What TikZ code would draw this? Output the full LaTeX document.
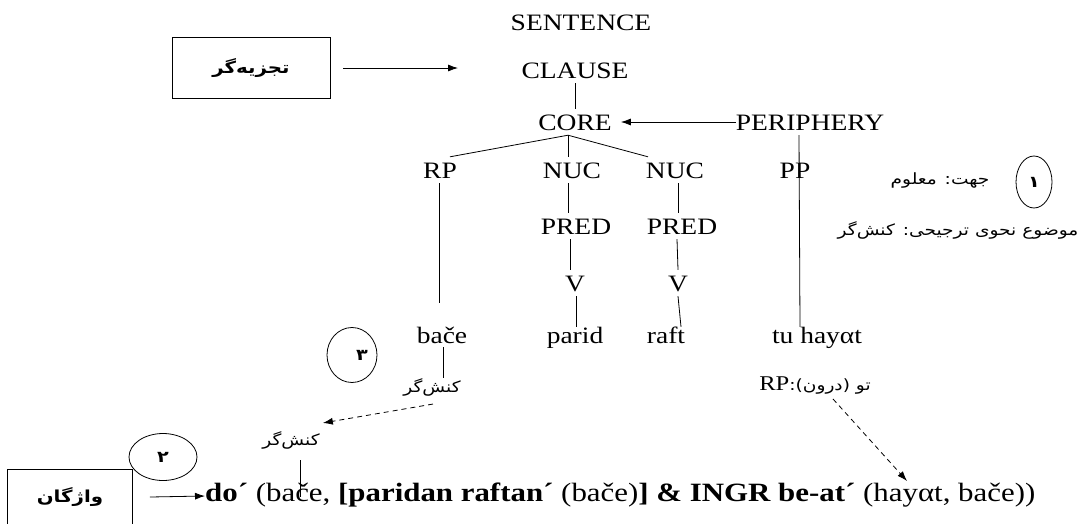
\documentclass[tikz,border=0pt]{standalone}
\usepackage{fontspec}
\setmainfont{Liberation Serif}[FakeStretch=1.17]
\newfontfamily\arabicfont[Script=Arabic,FakeStretch=1.2]{DejaVu Sans}
\usetikzlibrary{arrows.meta,shapes.geometric,calc}
\TeXXeTstate=1
\begin{document}
\begin{tikzpicture}[x=1pt,y=-1pt,
  tree/.style={inner xsep=0pt, inner ysep=5pt, text height=16pt, text depth=0pt, font=\fontsize{23.5}{28}\selectfont},
  word/.style={tree, inner ysep=0pt},
  fa/.style={inner sep=0pt, font=\arabicfont\fontsize{15.5}{18}\selectfont},
  fabox/.style={draw, line width=0.9pt, inner sep=0pt, font=\arabicfont\bfseries\fontsize{16.5}{20}\selectfont},
  oval/.style={draw, ellipse, inner sep=0pt, line width=0.8pt, font=\arabicfont\bfseries\fontsize{16}{18}\selectfont},
  edge/.style={line width=0.8pt},
  arr/.style={edge, -{Latex[length=10pt,width=7pt]}},
  darr/.style={arr, dash pattern=on 5pt off 4pt}]
\useasboundingbox (0,0) rectangle (1089,523);

% tree
\node[tree] (sentence) at (581,22) {SENTENCE};
\node[tree] (clause) at (575,70) {CLAUSE};
\node[tree] (core) at (575,122) {CORE};
\node[tree] (periphery) at (810,122) {PERIPHERY};
\node[tree] (rp) at (440,170) {RP};
\node[tree] (nuc1) at (572,170) {NUC};
\node[tree] (nuc2) at (675,170) {NUC};
\node[tree] (pp) at (795,170) {PP};
\node[tree] (pred1) at (576,226) {PRED};
\node[tree] (pred2) at (682,226) {PRED};
\node[tree] (v1) at (575,283) {V};
\node[tree] (v2) at (678,283) {V};
\node[word] (bace) at (442,335) {bače};
\node[word] (parid) at (575,335) {parid};
\node[word] (raft) at (666,335) {raft};
\node[word] (tuhayat) at (817,335) {tu hayαt};

\draw[edge] (clause.south) -- (core.north);
\coordinate (apex) at ($(core.south)+(-7,0)$);
\draw[edge] (apex) -- ($(rp.north)+(10,0)$);
\draw[edge] (apex) -- ($(nuc1.north)+(-4,0)$);
\draw[edge] (apex) -- ($(nuc2.north)+(-27,0)$);
\draw[edge] ($(nuc1.south)+(-4,0)$) -- ($(pred1.north)+(-8,0)$);
\draw[edge] ($(nuc2.south)+(3,0)$) -- ($(pred2.north)+(-4,0)$);
\draw[edge] ($(pred1.south)+(-6,0)$) -- ($(v1.north)+(-5,0)$);
\draw[edge] ($(pred2.south)+(-5,0)$) -- (v2.north);
\draw[edge] ($(v1.south)+(1,0)$) -- ($(parid.north)+(1,0)$);
\draw[edge] (v2.south) -- ($(raft.north)+(15,0)$);
\draw[edge] ($(rp.south)+(-1,0)$) -- ($(bace.north)+(-3,-24)$);
\draw[edge] ($(periphery.south)+(-11,0)$) -- ($(tuhayat.north)+(-17,0)$);
\draw[arr, shorten >=9pt] (periphery.west) -- (core.east);

% parser box
\node[fabox, minimum width=158pt, minimum height=61pt] (parser) at (251,68) {\beginR تجزیه‌گر\endR};
\coordinate (parserEnd) at (458,68);
\draw[arr] ($(parser.east)+(13,0)$) -- (parserEnd);

% right notes
\node[oval, minimum width=36pt, minimum height=52pt] (c1) at (1034,182) {۱};
\node[fa] (jhat) at (940,180) {\beginR جهت: معلوم\endR};
\node[fa] (psa) at (958,230) {\beginR موضوع نحوی ترجیحی: کنش‌گر\endR};

% actor labels
\node[oval, minimum width=50pt, minimum height=55pt] (c3) at (352,355) {\kern20pt ۳};
\node[fa] (actorA) at (432,387) {\beginR کنش‌گر\endR};
\draw[edge] ($(bace.south)+(1,4)$) -- ($(actorA.north)+(11,0)$);
\node[fa] (actorB) at (291,440) {\beginR کنش‌گر\endR};
\draw[darr] ($(actorA.south)+(1,8)$) -- ($(actorB.north east)+(3,-8)$);

\node[inner sep=0pt] (rplab) at (815,386) {\beginR{\arabicfont\fontsize{15.5}{18}\selectfont تو (درون):}\beginL\fontsize{21}{24}\selectfont RP\endL\endR};

% lexicon
\node[fabox, minimum width=125pt, minimum height=56pt] (lex) at (70,497) {\beginR واژگان\endR};
\node[oval, minimum width=68pt, minimum height=47pt] (c2) at (163,457) {۲};
\node[anchor=west, inner sep=0pt, text height=17pt, text depth=6pt, font=\fontsize{26.4}{30}\selectfont] (formula) at (205,496)
  {\textbf{do´} (bače, \textbf{[paridan raftan´} (bače)\textbf{]} \textbf{\& INGR be-at´} (hayαt, bače))};
\draw[arr] ($(lex.east)+(17,0)$) -- (formula.west);
\coordinate (baceLow) at (300,497);
\draw[edge] ($(actorB.south)+(9,11)$) -- (baceLow);
\coordinate (hay) at (907,481);
\draw[darr] ($(rplab.south)+(18,4)$) -- (hay);
\end{tikzpicture}
\end{document}
